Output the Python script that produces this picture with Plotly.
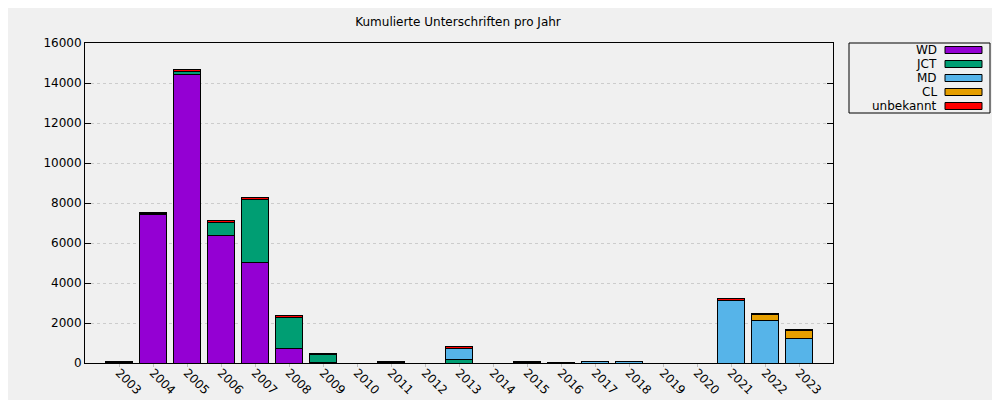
import plotly.graph_objects as go

years = list(range(2003, 2024))
year_labels = [str(y) for y in years]

series_names = ["WD", "JCT", "MD", "CL", "unbekannt"]
series_colors = ["#9400d3", "#009e73", "#56b4e9", "#e69f00", "#ff0000"]

#            2003  2004   2005   2006  2007  2008  2009 2010 2011 2012 2013 2014 2015 2016 2017 2018 2019 2020 2021  2022  2023
wd        = [40,   7420, 14450, 6400, 5050,  750,   20,  0,  30,   0,   0,   0,  30,   0,   0,   0,   0,   0,    0,    0,    0]
jct       = [0,      50,   120,  650, 3130, 1550,  430,  0,   0,   0, 180,   0,   0,   0,   0,   0,   0,   0,    0,    0,    0]
md        = [0,       0,     0,    0,    0,    0,    0,  0,   0,   0, 560,   0,   0,   0,  60,  60,   0,   0, 3150, 2130, 1230]
cl        = [0,       0,     0,    0,    0,    0,    0,  0,   0,   0,   0,   0,   0,   0,   0,   0,   0,   0,    0,  320,  420]
unbekannt = [30,     70,   130,   80,  100,   70,   50,  0,  30,   0,  70,   0,  30,  30,  40,  40,   0,   0,   70,   30,   30]

series_values = [wd, jct, md, cl, unbekannt]

y_ticks = list(range(0, 16001, 2000))
y_tick_labels = [str(v) for v in y_ticks]

fig = go.Figure()
for name, color, vals in zip(series_names, series_colors, series_values):
    fig.add_trace(go.Bar(
        x=years,
        y=[v if v else None for v in vals],
        name=name,
        marker=dict(color=color, line=dict(color="#000000", width=1)),
        width=0.8,
        showlegend=False,
    ))

# page offset (browser body margin)
OFF = 8
W, H = 1000 - OFF, 400 - OFF
# plot area in reference-screen pixels: x 85..833, y 43..363
L, R, T, B = 85, 833, 43, 363
def px_x(p):
    return (p - L) / (R - L)
def px_y(p):
    return (B - p) / (B - T)

shapes = []
annotations = []
# legend box
shapes.append(dict(type="rect", xref="paper", yref="paper",
                   x0=px_x(849), x1=px_x(990), y0=px_y(113), y1=px_y(43),
                   line=dict(color="#000000", width=1), fillcolor="rgba(0,0,0,0)"))
for i, (name, color) in enumerate(zip(series_names, series_colors)):
    cy = 50 + 14 * i
    annotations.append(dict(text=name, xref="paper", yref="paper",
                            x=px_x(939), y=px_y(cy), xanchor="right", yanchor="middle",
                            showarrow=False, font=dict(size=12, color="#000000")))
    shapes.append(dict(type="rect", xref="paper", yref="paper",
                       x0=px_x(945), x1=px_x(982), y0=px_y(cy + 3.5), y1=px_y(cy - 3.5),
                       line=dict(color="#000000", width=1), fillcolor=color))

fig.update_layout(
    width=W, height=H,
    margin=dict(l=L - OFF, r=W - (R - OFF), t=T - OFF, b=H - (B - OFF), autoexpand=False),
    paper_bgcolor="#f0f0f0", plot_bgcolor="#f0f0f0",
    barmode="stack",
    font=dict(family="DejaVu Sans", size=12, color="#000000"),
    title=dict(text="Kumulierte Unterschriften pro Jahr", x=(458 - OFF) / W, xanchor="center",
               y=1 - (22 - OFF) / H, yanchor="middle", yref="container",
               font=dict(size=12, color="#000000")),
    shapes=shapes,
    annotations=annotations,
    showlegend=False,
)
fig.update_xaxes(
    range=[2002, 2024], automargin=False,
    tickvals=years, ticktext=year_labels, tickangle=45,
    ticks="outside", ticklen=3, tickcolor="#c0c0c0",
    ticklabelstandoff=-6,
    showline=True, linecolor="#000000", linewidth=1, mirror=True,
    showgrid=False, zeroline=False,
)
fig.update_yaxes(
    range=[0, 16000], automargin=False,
    tickvals=y_ticks, ticktext=y_tick_labels,
    ticks="inside", ticklen=6, tickcolor="#000000",
    showline=True, linecolor="#000000", linewidth=1, mirror="ticks",
    showgrid=True, gridcolor="#cccccc", griddash="dot", gridwidth=1,
    zeroline=False,
)

fig.write_html("out.html")
